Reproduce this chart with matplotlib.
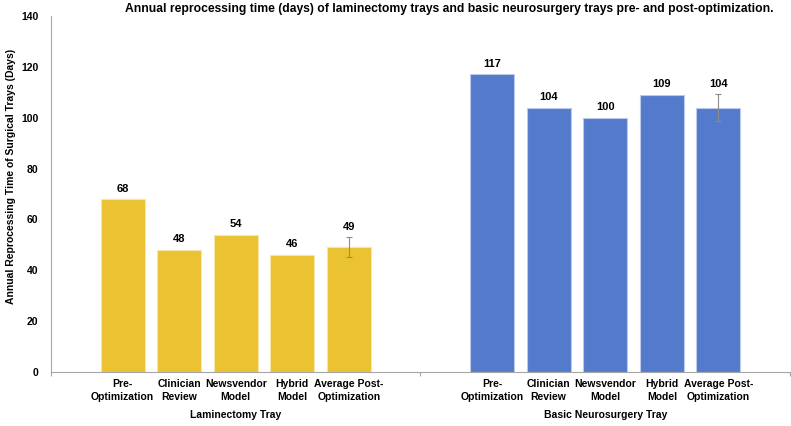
import matplotlib
matplotlib.use("Agg")
import matplotlib.pyplot as plt
import matplotlib.transforms as mtransforms
import numpy as np

plt.rcParams['font.family'] = ['Liberation Sans', 'DejaVu Sans']
plt.rcParams['font.weight'] = 'bold'

groups = ["Laminectomy Tray", "Basic Neurosurgery Tray"]
methods = ["Pre-\nOptimization", "Clinician\nReview", "Newsvendor\nModel",
           "Hybrid\nModel", "Average Post-\nOptimization"]
laminectomy = [68, 48, 54, 46, 49]
neurosurgery = [117, 104, 100, 109, 104]
laminectomy_err = [0, 0, 0, 0, 3.9]
neurosurgery_err = [0, 0, 0, 0, 5.3]

values = [laminectomy, neurosurgery]
errors = [laminectomy_err, neurosurgery_err]
colors = ["#EBC232", "#547ACC"]
edge_colors = ["#F8E6A8", "#BCCBEC"]

group_width = 6.53
bar_width = 0.78

fig = plt.figure(figsize=(7.91, 4.26), dpi=100)
ax = fig.add_axes([0.0645, 0.1268, 0.9342, 0.8356])

tick_pos = []
tick_lab = []
for g, (vals, errs) in enumerate(zip(values, errors)):
    center = g * group_width
    xs = center + np.arange(len(vals)) - 2
    ax.bar(xs, vals, width=bar_width, color=colors[g], edgecolor=edge_colors[g], linewidth=0.8, zorder=2)
    for x, v, e in zip(xs, vals, errs):
        if e > 0:
            ax.errorbar(x, v, yerr=e, fmt='none', ecolor='#8C8C8C', elinewidth=0.8,
                        capsize=2.5, capthick=0.8, zorder=3)
        ax.annotate(str(v), (x, v + e), xytext=(0, 4), textcoords='offset points',
                    ha='center', va='bottom', fontsize=8, fontweight='bold')
    tick_pos.extend(xs)
    tick_lab.extend(methods)
    trans = mtransforms.blended_transform_factory(ax.transData, fig.transFigure)
    ax.text(center, 1 - 415 / 426, groups[g], transform=trans, ha='center', va='center',
            fontsize=7.5, fontweight='bold')

ax.set_xlim(-group_width / 2, group_width * 1.5)
ax.set_ylim(0, 140)
ax.set_yticks(np.arange(0, 141, 20))
ax.set_xticks(tick_pos)
ax.set_xticklabels(tick_lab, fontsize=7.5, fontweight='bold', linespacing=1.35)
ax.set_xticks([-group_width / 2, group_width / 2, group_width * 1.5], minor=True)
ax.tick_params(axis='x', which='major', length=0, pad=5)
ax.tick_params(axis='x', which='minor', length=3, color='#A6A6A6', width=0.8)
ax.tick_params(axis='y', length=0, pad=9, labelsize=7.5)
for lab in ax.get_yticklabels():
    lab.set_fontweight('bold')

for s in ['top', 'right']:
    ax.spines[s].set_visible(False)
ax.spines['left'].set_color('#A6A6A6')
ax.spines['bottom'].set_color('#A6A6A6')
ax.spines['left'].set_linewidth(0.8)
ax.spines['bottom'].set_linewidth(0.8)

ax.set_ylabel("Annual Reprocessing Time of Surgical Trays (Days)", fontsize=7.5, fontweight='bold')
ax.yaxis.set_label_coords(-0.047, 0.55)
fig.text(0.568, 1 - 9 / 426, "Annual reprocessing time (days) of laminectomy trays and basic neurosurgery trays pre- and post-optimization.",
         ha='center', va='center', fontsize=8.7, fontweight='bold')

fig.savefig("out.png", dpi=100)
